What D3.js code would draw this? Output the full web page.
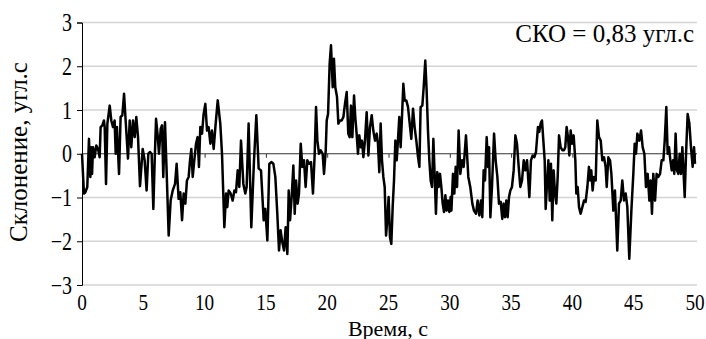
<!DOCTYPE html>
<html><head><meta charset="utf-8">
<script src="https://cdn.jsdelivr.net/npm/d3@7/dist/d3.min.js"></script>
<style>html,body{margin:0;padding:0;background:#fff;}svg{display:block;}</style>
</head><body>
<svg id="chart" width="706" height="339"></svg>
<script>
const timeS = [0.00,0.16,0.27,0.43,0.57,0.68,0.76,0.82,0.90,1.03,1.17,1.31,1.44,1.52,1.66,1.79,1.85,1.96,2.07,2.26,2.39,2.53,2.66,2.75,2.85,3.02,3.15,3.29,3.43,3.56,3.75,3.89,4.02,4.16,4.30,4.43,4.57,4.73,4.95,5.11,5.27,5.41,5.55,5.68,5.82,5.93,6.04,6.17,6.28,6.42,6.53,6.63,6.77,6.91,7.07,7.23,7.40,7.59,7.72,7.88,8.02,8.16,8.29,8.43,8.56,8.70,8.81,8.92,9.03,9.16,9.30,9.43,9.54,9.65,9.79,9.92,10.06,10.20,10.33,10.47,10.60,10.74,10.88,11.07,11.28,11.42,11.61,11.75,11.85,11.96,12.13,12.29,12.43,12.56,12.70,12.83,12.97,13.16,13.32,13.43,13.59,13.81,14.03,14.22,14.41,14.60,14.82,14.95,15.12,15.28,15.44,15.61,15.77,15.93,16.07,16.20,16.34,16.48,16.61,16.75,16.86,16.97,17.10,17.24,17.35,17.46,17.59,17.70,17.84,17.97,18.11,18.24,18.38,18.54,18.68,18.84,18.98,19.09,19.20,19.33,19.47,19.63,19.74,19.88,19.96,20.07,20.20,20.31,20.45,20.55,20.66,20.80,20.91,21.04,21.18,21.32,21.45,21.59,21.72,21.83,21.94,22.05,22.19,22.29,22.40,22.51,22.62,22.73,22.84,22.95,23.08,23.22,23.36,23.49,23.63,23.76,23.90,24.04,24.14,24.25,24.36,24.47,24.58,24.69,24.80,24.90,25.01,25.12,25.23,25.34,25.45,25.56,25.67,25.77,25.88,25.99,26.10,26.21,26.32,26.45,26.59,26.73,26.86,27.00,27.13,27.27,27.41,27.52,27.62,27.76,27.87,28.00,28.11,28.22,28.33,28.44,28.55,28.66,28.77,28.87,28.98,29.09,29.20,29.31,29.42,29.53,29.64,29.74,29.85,29.96,30.07,30.13,30.26,30.37,30.48,30.59,30.72,30.86,31.00,31.13,31.32,31.51,31.67,31.84,31.97,32.14,32.27,32.41,32.54,32.65,32.76,32.87,33.01,33.12,33.20,33.31,33.44,33.61,33.74,33.88,34.01,34.15,34.28,34.39,34.50,34.61,34.72,34.83,34.94,35.07,35.21,35.35,35.48,35.62,35.75,35.89,36.03,36.16,36.30,36.49,36.62,36.76,36.89,37.03,37.19,37.30,37.41,37.52,37.63,37.74,37.82,37.93,38.04,38.15,38.25,38.36,38.47,38.58,38.69,38.80,38.91,39.04,39.18,39.31,39.42,39.53,39.64,39.75,39.86,39.97,40.10,40.24,40.32,40.43,40.54,40.67,40.81,40.95,41.08,41.22,41.35,41.44,41.54,41.65,41.76,41.90,42.03,42.17,42.31,42.44,42.58,42.71,42.80,42.93,43.07,43.18,43.34,43.47,43.66,43.80,43.94,44.07,44.21,44.35,44.48,44.64,44.81,44.97,45.08,45.19,45.30,45.46,45.60,45.73,45.87,46.00,46.14,46.28,46.38,46.49,46.60,46.74,46.87,47.01,47.15,47.28,47.42,47.53,47.66,47.77,47.88,47.99,48.10,48.21,48.31,48.42,48.53,48.64,48.75,48.86,48.97,49.16,49.27,49.40,49.54,49.67,49.81,49.92,50.00];
const declination = [0,-0.91,-0.88,-0.76,0.34,-0.53,0.15,-0.46,0.15,-0.08,0.19,0.11,-0.08,0.61,0.65,0.76,0.61,-0.69,0.69,1.10,0.76,0.61,0.76,0,0.61,-0.46,0.84,0.88,1.37,0.76,-0.11,0.76,0.15,0.76,0.38,0.84,0.38,-0.74,0.11,-0.15,-0.84,0,0.04,0,-1.26,-0.15,0.80,0.42,0,0.57,0.65,-0.53,0.72,-0.46,-1.87,-1.07,-0.84,-0.69,-0.23,-1.03,-0.88,-1.52,-0.91,-1.14,-0.61,-0.53,-0.15,0.11,-0.53,-0.15,0.23,0.38,-0.30,0.61,0.46,0.91,1.14,0.53,0.61,0.23,0.53,0.11,0.61,1.22,0.69,0,-1.68,-0.91,-1.22,-0.84,-0.91,-1.07,-0.84,-0.88,-0.38,-0.76,0.30,-0.69,-0.91,-0.76,0.69,-1.68,-0.15,0.88,-0.34,-0.38,-1.52,-1.26,-1.98,-0.23,-0.19,-0.23,-0.53,-1.37,-2.21,-1.75,-2.02,-2.21,-1.68,-2.29,-0.84,-1.52,-0.99,-0.27,-1.37,-0.61,-1.14,-0.91,0.23,-0.30,-0.15,-0.76,-0.15,-0.23,-0.19,-0.91,0,1.07,0.30,0,0.08,0,-0.46,0.08,0.76,0.91,2.06,2.48,1.52,2.17,1.52,1.30,0.69,0.76,0.76,0.84,1.14,1.41,0.46,0.38,1.10,0.38,1.33,0.84,0.46,0,0.42,0.15,0.30,-0.08,0.30,0.95,-0.04,0.61,0.88,0.53,0.30,0.46,0.23,-0.42,0.69,-0.15,-0.53,-0.76,-1.87,-1.52,-0.99,-1.91,-2.06,-1.22,-0.61,0.30,-0.15,0.30,0.84,0.15,0.84,1.60,1.22,1.22,1.07,0.69,0.34,1.03,0.61,0.30,-0.08,-0.30,1.07,1.10,1.52,2.13,1.45,0.53,-0.15,-0.61,-0.76,0.34,-0.53,-1.37,-0.42,-0.76,-0.46,-0.76,-1.14,-1.33,-0.95,-1.30,-1.07,-1.33,-0.99,-1.30,-0.46,-0.91,-0.30,-0.76,0.53,-0.46,-0.15,-0.30,0.42,-0.53,-0.76,-1.14,-1.30,-1.37,-1.07,-1.41,-1.07,-1.45,-0.38,-0.61,0.38,-0.30,0.15,-1.45,-0.76,0.46,-0.15,-0.53,-1.14,-1.10,-1.49,-1.14,-1.45,-1.07,-1.45,-0.99,-0.84,-0.76,-0.38,0.42,0.23,-0.30,-0.76,-0.61,-0.15,-0.38,-0.15,-0.99,-0.15,-0.04,-0.08,0.04,0.61,0.50,0.69,0.76,0.30,-0.15,-1.26,-0.69,-0.15,-1.07,-0.23,-1.52,-0.38,-0.91,-1.14,-0.53,0.42,0.15,0.08,0.08,0.15,0.61,0.38,-0.04,0.53,0.23,0.42,-0.15,-0.91,-0.76,-1.22,-1.37,-1.22,-1.07,-1.10,-0.76,-0.30,-0.61,-0.38,-0.84,-0.53,-0.61,0.76,0.38,0.30,-0.15,-0.08,-0.30,-0.76,-0.08,-0.15,-0.46,-1.30,-0.84,-2.21,-1.14,-1.07,-0.61,-1.07,-0.91,-1.22,-2.40,-1.30,-0.46,0.23,0,0.46,0.30,0.53,0.15,0,-0.76,-0.46,-1.07,-0.61,-1.37,-0.46,-1.07,-0.46,-0.53,-0.46,-0.15,-0.15,0.30,1.07,0,0.15,-0.15,-0.38,-0.15,-0.46,0.46,-0.38,-0.46,0,-0.46,0.15,-0.99,0,0.91,0.69,0.15,-0.30,0.15,-0.23];
const xTicks = [0,5,10,15,20,25,30,35,40,45,50];
const yTicks = [-3,-2,-1,0,1,2,3];
const xTitle = "Время, с";
const yTitle = "Склонение, угл.с";
const noteText = "СКО = 0,83 угл.с";

const svg = d3.select("#chart");
const font = "'Liberation Serif','Times New Roman',serif";
const x = d3.scaleLinear().domain([0,50]).range([82,695]);
const y = d3.scaleLinear().domain([-3,3]).range([285,22.5]);

// gridlines
svg.append("g").selectAll("line").data(yTicks).join("line")
  .attr("x1",82).attr("x2",697).attr("y1",d=>y(d)).attr("y2",d=>y(d))
  .attr("stroke",d=>d===0?"none":"#d4d4d4").attr("stroke-width",1.3);

// zero axis with ticks
const xAxis = d3.axisBottom(x).tickValues(xTicks).tickSize(4).tickFormat("");
const gx = svg.append("g").attr("transform",`translate(0,${y(0)})`).call(xAxis);
gx.select(".domain").attr("d",`M82,0H697`).attr("stroke","#333");
gx.selectAll(".tick line").attr("stroke","#333");

// x tick labels at bottom (condensed)
svg.append("g").selectAll("text").data(xTicks).join("text")
  .attr("transform",d=>`translate(${x(d)},309.5) scale(0.8,1)`).attr("text-anchor","middle")
  .attr("font-family",font).attr("font-size",24)
  .text(d=>d);

// y axis
const yAxis = d3.axisLeft(y).tickValues(yTicks).tickSize(5).tickFormat("");
const gy = svg.append("g").attr("transform","translate(82,0)").call(yAxis);
gy.select(".domain").attr("stroke","#000");
gy.selectAll(".tick line").attr("stroke","#000");
svg.append("g").selectAll("text").data(yTicks).join("text")
  .attr("transform",d=>`translate(72,${y(d)+8.5}) scale(0.8,1)`).attr("text-anchor","end")
  .attr("font-family",font).attr("font-size",25)
  .text(d=>d<0?"\u2212"+Math.abs(d):d);

// line
const pts = timeS.map((t,i)=>[t,declination[i]]);
svg.append("path").datum(pts)
  .attr("d",d3.line().x(d=>x(d[0])).y(d=>y(d[1])))
  .attr("fill","none").attr("stroke","#000").attr("stroke-width",2.5).attr("stroke-linejoin","round");

// titles
svg.append("text").attr("x",388).attr("y",335.5).attr("text-anchor","middle")
  .attr("font-family",font).attr("font-size",22).text(xTitle);
svg.append("text").attr("transform","translate(27,152) rotate(-90)").attr("text-anchor","middle")
  .attr("font-family",font).attr("font-size",25).text(yTitle);
svg.append("text").attr("x",694).attr("y",42).attr("text-anchor","end")
  .attr("font-family",font).attr("font-size",25).text(noteText);
</script>
</body></html>
